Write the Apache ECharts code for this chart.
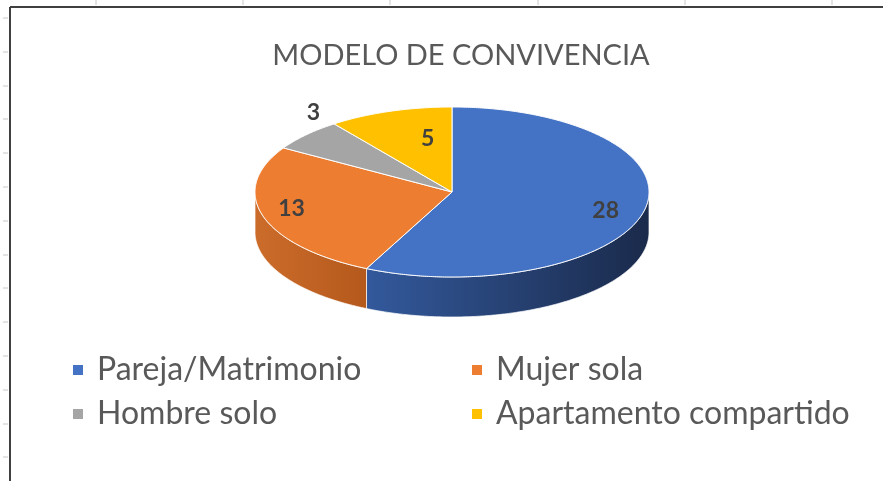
<!DOCTYPE html>
<html>
<head>
<meta charset="utf-8">
<script src="https://cdn.jsdelivr.net/npm/echarts@6/dist/echarts.min.js"></script>
<style>
  html, body { margin: 0; padding: 0; background: #fff; }
  #chart { width: 883px; height: 481px; }
</style>
</head>
<body>
<div id="chart"></div>
<script>
// Data
const CATEGORIES = ['Pareja/Matrimonio', 'Mujer sola', 'Hombre solo', 'Apartamento compartido'];
const VALUES = [28, 13, 3, 5];

// Styling
const TOP_COLORS = ['#4472c4', '#ed7d31', '#a5a5a5', '#ffc000'];
const SIDE_COLORS = [['#33599c', '#1a2a4b'], ['#cc6c2b', '#b4591c'], ['#7f7f7f', '#5e5e5e'], ['#bf9000', '#8f6c00']];
const PIE = { cx: 452, cy: 192, rx: 197, ry: 85, depth: 40 };
// label placement: radial factor + nudge
const LABEL_K = [0.8, 0.85, 0.95, 0.6];
const LABEL_NUDGE = [[0, 3], [0, -4], [0, -25], [13, -5]];

const TOTAL = VALUES.reduce((a, b) => a + b, 0);

function arcPts(a0, a1, dy) {
  const pts = [];
  const n = Math.max(2, Math.ceil((a1 - a0) / 0.01));
  for (let i = 0; i <= n; i++) {
    const t = a0 + (a1 - a0) * i / n;
    pts.push([PIE.cx + PIE.rx * Math.sin(t), PIE.cy - PIE.ry * Math.cos(t) + dy]);
  }
  return pts;
}

function renderSlice(params, api) {
  const idx = params.seriesIndex;
  const v = api.value(0);
  const before = VALUES.slice(0, idx).reduce((a, b) => a + b, 0);
  const a0 = before / TOTAL * Math.PI * 2;
  const a1 = (before + v) / TOTAL * Math.PI * 2;
  const children = [];

  // front wall (visible between 90deg and 270deg clockwise from top)
  const s0 = Math.max(a0, Math.PI / 2);
  const s1 = Math.min(a1, Math.PI * 3 / 2);
  if (s0 < s1) {
    const topArc = arcPts(s0, s1, 0);
    const botArc = arcPts(s0, s1, PIE.depth).reverse();
    const xs = topArc.map(p => p[0]);
    const minX = Math.min(...xs), maxX = Math.max(...xs);
    children.push({
      type: 'polygon',
      shape: { points: topArc.concat(botArc) },
      style: {
        fill: {
          type: 'linear', x: minX, y: 0, x2: maxX, y2: 0, global: true,
          colorStops: [
            { offset: 0, color: SIDE_COLORS[idx][0] },
            { offset: 1, color: SIDE_COLORS[idx][1] },
          ],
        },
        stroke: 'rgba(255,255,255,0.7)', lineWidth: 1,
      },
    });
  }

  // top face
  children.push({
    type: 'polygon',
    shape: { points: [[PIE.cx, PIE.cy]].concat(arcPts(a0, a1, 0)) },
    style: { fill: TOP_COLORS[idx], stroke: '#ffffff', lineWidth: 1 },
  });

  // value label
  const mid = (a0 + a1) / 2;
  const k = LABEL_K[idx];
  children.push({
    type: 'text',
    z2: 10,
    x: PIE.cx + PIE.rx * k * Math.sin(mid) + LABEL_NUDGE[idx][0],
    y: PIE.cy - PIE.ry * k * Math.cos(mid) + LABEL_NUDGE[idx][1],
    style: {
      text: String(v),
      fill: '#404040',
      font: 'bold 23px Lato',
      align: 'center',
      verticalAlign: 'middle',
    },
  });

  return { type: 'group', children };
}

// frame decoration (spreadsheet border + ticks)
const TOP_TICKS = [96, 243, 390, 538, 685, 832];
const LEFT_TICKS = [18, 52, 86, 119, 153, 187, 221, 255, 288, 322, 356, 390, 424, 457];
const frame = [
  { type: 'line', shape: { x1: 10, y1: 7, x2: 883, y2: 7 }, style: { stroke: '#404040', lineWidth: 2 } },
  { type: 'line', shape: { x1: 10, y1: 7, x2: 10, y2: 481 }, style: { stroke: '#404040', lineWidth: 2 } },
  ...TOP_TICKS.map(x => ({ type: 'line', shape: { x1: x, y1: 0, x2: x, y2: 5 }, style: { stroke: '#c8c8c8', lineWidth: 1 } })),
  ...LEFT_TICKS.map(y => ({ type: 'line', shape: { x1: 3, y1: y, x2: 8, y2: y }, style: { stroke: '#c8c8c8', lineWidth: 1 } })),
];

const legendText = { fontFamily: 'Lato', fontSize: 32, color: '#595959', lineHeight: 30, padding: [0, 0, 0, 9] };

const chart = echarts.init(document.getElementById('chart'), null, { renderer: 'canvas' });
chart.setOption({
  animation: false,
  backgroundColor: '#ffffff',
  color: TOP_COLORS,
  title: {
    text: 'MODELO DE CONVIVENCIA',
    left: 456, top: 36, textAlign: 'center',
    textStyle: { fontFamily: 'Lato', fontWeight: 'normal', fontSize: 29, color: '#595959' },
  },
  legend: [
    {
      data: [CATEGORIES[0], CATEGORIES[2]],
      orient: 'vertical', left: 73, top: 354, itemGap: 12, padding: 0,
      icon: 'rect', itemWidth: 10, itemHeight: 10,
      textStyle: legendText, selectedMode: false,
    },
    {
      data: [CATEGORIES[1], CATEGORIES[3]],
      orient: 'vertical', left: 472, top: 354, itemGap: 12, padding: 0,
      icon: 'rect', itemWidth: 10, itemHeight: 10,
      textStyle: legendText, selectedMode: false,
    },
  ],
  graphic: frame,
  series: CATEGORIES.map((name, i) => ({
    name,
    type: 'custom',
    coordinateSystem: 'none',
    itemStyle: { color: TOP_COLORS[i] },
    silent: true,
    data: [[VALUES[i]]],
    renderItem: renderSlice,
  })),
});
</script>
</body>
</html>
